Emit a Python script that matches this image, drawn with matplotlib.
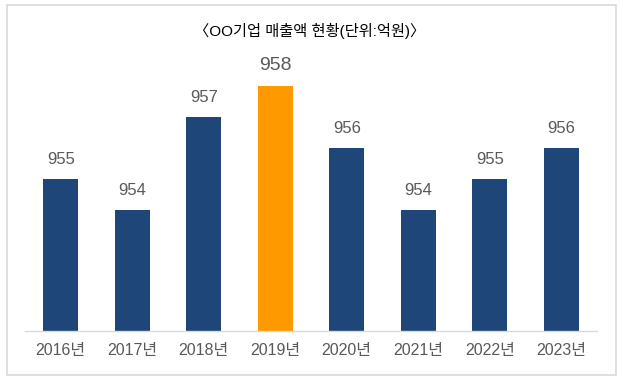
import matplotlib
matplotlib.use("Agg")
import matplotlib.pyplot as plt
import matplotlib.patches as mpatches

plt.rcParams['font.family'] = ['Liberation Sans', 'Noto Sans CJK KR', 'DejaVu Sans']

# data
years = ['2016년', '2017년', '2018년', '2019년', '2020년', '2021년', '2022년', '2023년']
sales = [955, 954, 957, 958, 956, 954, 955, 956]
highlight = '2019년'
title = '〈OO기업 매출액 현황(단위:억원)〉'

navy = '#1F4679'
orange = '#FF9900'
textcol = '#595959'

W, H = 623, 382
fig = plt.figure(figsize=(W / 100, H / 100), dpi=100)

# outer frame
frame = mpatches.Rectangle((7 / W, (H - 375) / H), 609 / W, 370 / H,
                           transform=fig.transFigure, fill=False,
                           edgecolor='#D9D9D9', linewidth=1.2)
fig.patches.append(frame)

ax = fig.add_axes([25 / W, (H - 331) / H, 572 / W, 276 / H])
colors = [orange if y == highlight else navy for y in years]
x = range(len(years))
ax.bar(x, sales, width=0.49, color=colors, bottom=0)

ax.set_xlim(-0.5, len(years) - 0.5)
ax.set_ylim(950.1, 959)

for i, v in enumerate(sales):
    big = years[i] == highlight
    ax.annotate(str(v), xy=(i, v), xytext=(0, 9), textcoords='offset points',
                ha='center', va='bottom', color=textcol,
                fontsize=14 if big else 12)

ax.set_xticks(list(x))
ax.set_xticklabels(years, fontsize=11.5, color=textcol)
ax.tick_params(axis='x', length=0, pad=9)
ax.set_yticks([])
for s in ['top', 'right', 'left']:
    ax.spines[s].set_visible(False)
ax.spines['bottom'].set_color('#D9D9D9')
ax.spines['bottom'].set_linewidth(1)

fig.text(310 / W, (H - 31) / H, title, ha='center', va='center',
         fontsize=11, color='#000000')

fig.savefig('out.png', dpi=100)
